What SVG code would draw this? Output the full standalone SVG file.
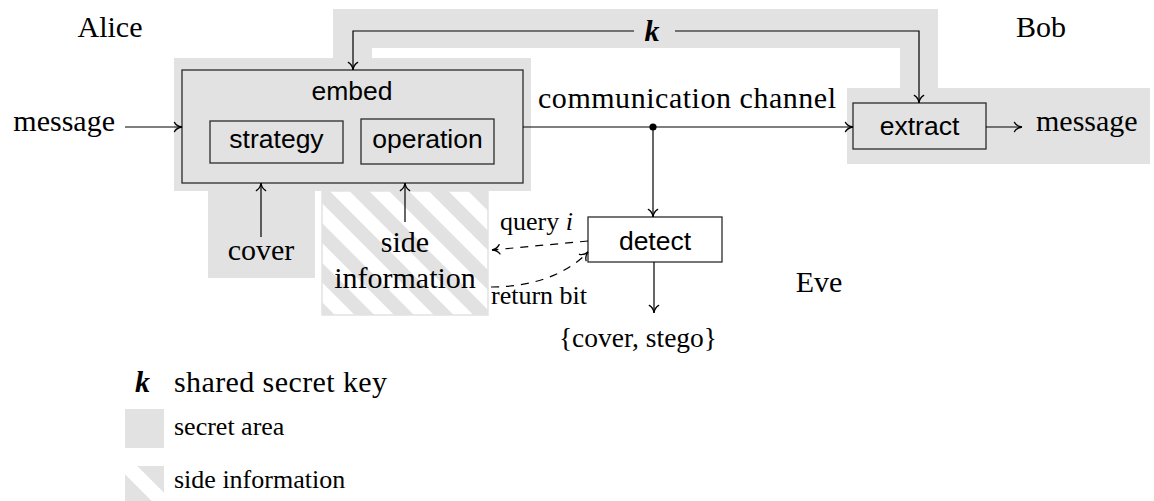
<svg xmlns="http://www.w3.org/2000/svg" width="1154" height="501" viewBox="0 0 1154 501">
  <style>
    .secret { fill: #e2e2e2; }
    .box { fill: #e2e2e2; stroke: #2b2b2b; stroke-width: 1.3; }
    .box-white { fill: #ffffff; stroke: #2b2b2b; stroke-width: 1.3; }
    .wire { fill: none; stroke: #000; stroke-width: 1.2; }
    .dashed { stroke-dasharray: 8 7; }
    .serif { font-family: "Liberation Serif", "Times New Roman", serif; font-size: 30px; fill: #000; }
    .small { font-family: "Liberation Serif", "Times New Roman", serif; font-size: 26px; fill: #000; }
    .sans { font-family: "Liberation Sans", Arial, sans-serif; font-size: 26.5px; fill: #000; }
    .mid { text-anchor: middle; }
  </style>
  <defs>
    <marker id="arrow" markerUnits="userSpaceOnUse" markerWidth="14" markerHeight="14" viewBox="-8 -6 10 12" refX="0" refY="0" orient="auto" overflow="visible">
      <path d="M -6.5 -4 C -5 -1.5 -2.5 -0.3 0 0 C -2.5 0.3 -5 1.5 -6.5 4" fill="none" stroke="#000" stroke-width="1.1" stroke-linecap="round"/>
    </marker>
    <pattern id="hatch" patternUnits="userSpaceOnUse" width="28" height="28" patternTransform="rotate(-45)">
      <rect width="28" height="28" fill="#ffffff"/>
      <rect width="14" height="28" fill="#e2e2e2"/>
    </pattern>
    <clipPath id="legend-hatch-clip">
      <rect x="125" y="466" width="39" height="39"/>
    </clipPath>
  </defs>

  <!-- secret area shared by Alice and Bob -->
  <g id="secret-area">
    <rect class="secret" x="333" y="9" width="605" height="39"/>
    <rect class="secret" x="333" y="9" width="39" height="50"/>
    <rect class="secret" x="900" y="9" width="38" height="80"/>
    <rect class="secret" x="174" y="58" width="357" height="133"/>
    <rect class="secret" x="208" y="190" width="107" height="88"/>
    <rect class="secret" x="847" y="88" width="303" height="76"/>
  </g>

  <!-- side information source -->
  <g id="side-information">
    <rect x="322" y="191" width="166" height="124" fill="url(#hatch)" stroke="#e2e2e2" stroke-width="1.5"/>
    <text class="serif mid" x="405" y="252">side</text>
    <text class="serif mid" x="405" y="288">information</text>
  </g>

  <g id="cover">
    <text class="serif mid" x="261" y="260">cover</text>
  </g>

  <g id="alice">
    <text class="serif mid" x="110" y="37">Alice</text>
  </g>
  <g id="bob">
    <text class="serif mid" x="1041" y="37">Bob</text>
  </g>
  <g id="eve">
    <text class="serif mid" x="819" y="292">Eve</text>
  </g>

  <g id="message-in">
    <text class="serif" x="115" y="131" text-anchor="end">message</text>
  </g>
  <g id="message-out">
    <text class="serif" x="1036" y="131">message</text>
  </g>

  <g id="embed">
    <rect class="box" x="182" y="70" width="341" height="113"/>
    <text class="sans mid" x="352" y="100">embed</text>
  </g>
  <g id="strategy">
    <rect class="box" x="210" y="121" width="133" height="42"/>
    <text class="sans mid" x="276.5" y="148">strategy</text>
  </g>
  <g id="operation">
    <rect class="box" x="361" y="119" width="133" height="45"/>
    <text class="sans mid" x="427.5" y="148">operation</text>
  </g>

  <g id="extract">
    <rect class="box" x="853" y="103" width="133" height="46"/>
    <text class="sans mid" x="919.5" y="135">extract</text>
  </g>

  <g id="detect">
    <rect class="box-white" x="588" y="217" width="134" height="45"/>
    <text class="sans mid" x="655" y="250">detect</text>
  </g>

  <g id="key">
    <text class="serif mid" x="652" y="41" font-weight="bold" font-style="italic">k</text>
  </g>

  <g id="channel-label">
    <text class="serif mid" x="687" y="108" textLength="298" lengthAdjust="spacing">communication channel</text>
  </g>

  <g id="verdict">
    <text class="serif mid" x="638" y="347" style="font-size:27.5px">{cover, stego}</text>
  </g>

  <!-- connectors -->
  <g id="connectors">
    <path class="wire" d="M 125 127 H 182" marker-end="url(#arrow)"/>
    <path class="wire" d="M 634 31 H 353 V 70" marker-end="url(#arrow)"/>
    <path class="wire" d="M 675 31 H 919 V 103" marker-end="url(#arrow)"/>
    <path class="wire" d="M 523 127 H 853" marker-end="url(#arrow)"/>
    <circle cx="653" cy="127" r="3.6" fill="#000"/>
    <path class="wire" d="M 653 127 V 217" marker-end="url(#arrow)"/>
    <path class="wire" d="M 986 127 H 1022" marker-end="url(#arrow)"/>
    <path class="wire" d="M 261 237 V 183" marker-end="url(#arrow)"/>
    <path class="wire" d="M 405 222 V 183" marker-end="url(#arrow)"/>
    <path class="wire" d="M 654 262 V 313" marker-end="url(#arrow)"/>
    <path class="wire dashed" d="M 588 241 L 492 250" marker-end="url(#arrow)"/>
    <path class="wire dashed" d="M 491 287 C 535 287 568 273 588 252" marker-end="url(#arrow)"/>
    <text class="small" x="500" y="230">query <tspan font-style="italic">i</tspan></text>
    <text class="small" x="491" y="304">return bit</text>
  </g>

  <!-- legend -->
  <g id="legend">
    <text class="serif" x="135" y="392" font-weight="bold" font-style="italic">k</text>
    <text class="serif" x="174" y="392" textLength="213" lengthAdjust="spacing">shared secret key</text>
    <rect class="secret" x="125" y="409" width="39" height="39"/>
    <text class="small" x="174" y="435">secret area</text>
    <g clip-path="url(#legend-hatch-clip)">
      <rect class="secret" x="125" y="466" width="39" height="39"/>
      <line x1="112" y1="451" x2="182" y2="521" stroke="#ffffff" stroke-width="14.5"/>
    </g>
    <text class="small" x="174" y="488">side information</text>
  </g>
</svg>
